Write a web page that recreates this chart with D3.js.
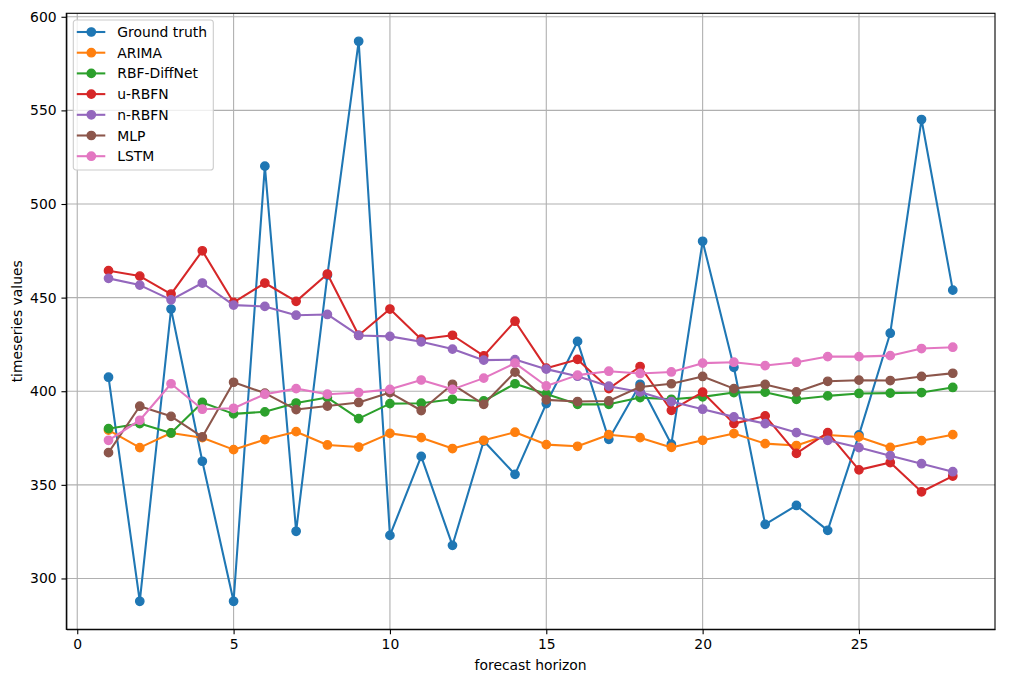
<!DOCTYPE html>
<html>
<head>
<meta charset="utf-8">
<script src="https://cdn.jsdelivr.net/npm/d3@7"></script>
<style>
    body { margin: 0; background: #fff; }
    #chart { width: 1009px; height: 682px; }
    text { font-family: "DejaVu Sans", sans-serif; fill: #000; }
    .grid line { stroke: #b0b0b0; stroke-width: 1.1px; }
    .axis path, .axis line { stroke: #000; stroke-width: 1.1px; }
    .axis text { font-size: 13.9px; }
    .axisLabel { font-size: 13.9px; }
    .legend text { font-size: 13.9px; }
</style>
</head>
<body>
<div id="chart"></div>
<script>

// forecast horizon (steps)
let horizon = d3.range(1, 29);

let seriesNames = ["Ground truth", "ARIMA", "RBF-DiffNet", "u-RBFN", "n-RBFN", "MLP", "LSTM"];

let groundTruth = [407.5, 287.8, 443.9, 362.6, 287.8, 520.2, 325.2, 462.0, 586.9, 323.0, 365.2, 317.7, 373.4, 355.6,
    393.4, 426.6, 374.3, 403.7, 371.7, 480.1, 412.8, 328.9, 339.0, 325.7, 376.7, 431.0, 545.1, 454.0];

let arima = [379.2, 369.9, 377.7, 375.2, 368.8, 374.2, 378.4, 371.3, 370.2, 377.5, 375.2, 369.4, 373.8, 378.1,
    371.5, 370.6, 376.8, 375.2, 370.0, 373.8, 377.4, 372.0, 371.0, 376.6, 375.6, 370.0, 373.6, 376.8];

let rbfDiffNet = [380.0, 382.7, 377.7, 394.0, 387.9, 389.0, 393.7, 396.6, 385.4, 393.4, 393.6, 395.7, 394.8, 404.0,
    398.5, 393.0, 393.0, 396.6, 395.7, 397.0, 399.3, 399.5, 395.7, 397.5, 398.8, 399.0, 399.3, 402.0];

let uRbfn = [464.4, 461.5, 451.9, 475.0, 447.4, 457.8, 448.0, 462.6, 429.9, 443.9, 427.8, 429.9, 418.9, 437.4,
    412.3, 417.0, 401.4, 413.2, 389.8, 399.5, 382.7, 386.8, 366.8, 377.9, 358.0, 361.9, 346.3, 354.7];

let nRbfn = [460.3, 456.7, 448.8, 457.8, 446.0, 445.3, 440.6, 441.0, 429.8, 429.3, 426.4, 422.5, 416.6, 416.9,
    411.8, 408.0, 402.7, 399.6, 394.5, 390.4, 386.3, 382.7, 377.9, 373.8, 369.9, 365.6, 361.3, 357.0];

let mlp = [367.2, 392.0, 386.6, 375.6, 404.8, 399.0, 390.2, 392.1, 394.0, 399.3, 389.7, 403.7, 393.0, 410.2,
    395.4, 394.5, 394.8, 402.3, 404.0, 407.9, 401.4, 403.6, 399.6, 405.3, 405.9, 405.7, 407.9, 409.6];

let lstm = [373.8, 384.5, 404.0, 390.4, 390.9, 398.4, 401.4, 398.4, 399.3, 401.0, 406.0, 401.0, 407.0, 415.0,
    402.8, 408.6, 410.7, 409.5, 410.3, 415.0, 415.5, 413.7, 415.5, 418.5, 418.5, 419.0, 422.8, 423.5];

let xTicks = [0, 5, 10, 15, 20, 25];
let yTicks = [300, 350, 400, 450, 500, 550, 600];

let colors = ["#1f77b4", "#ff7f0e", "#2ca02c", "#d62728", "#9467bd", "#8c564b", "#e377c2"];


class LineChart {

    constructor(parentElement, names, values) {
        this.parentElement = parentElement;
        this.data = names.map((name, i) => ({
            name: name,
            color: colors[i],
            points: values[i].map((v, j) => ({step: horizon[j], value: v}))
        }));

        this.initVis();
    }

    initVis() {
        let vis = this;

        vis.margin = {top: 13.3, right: 14, bottom: 52.7, left: 66.3};
        vis.width = 1009 - vis.margin.left - vis.margin.right;
        vis.height = 682 - vis.margin.top - vis.margin.bottom;

        // marker: 6pt size with 1pt edge
        vis.markerR = 4.17;
        vis.markerEdge = 1.39;

        vis.svg = d3.select("#" + vis.parentElement).append("svg")
            .attr("width", 1009)
            .attr("height", 682)
            .append("g")
            .attr("transform", "translate(" + vis.margin.left + "," + vis.margin.top + ")");

        // scales, padded 5% like matplotlib autoscale
        let xExt = d3.extent(horizon);
        let xPad = (xExt[1] - xExt[0]) * 0.05;
        vis.x = d3.scaleLinear()
            .domain([xExt[0] - xPad, xExt[1] + xPad])
            .range([0, vis.width]);

        let allValues = vis.data.flatMap(d => d.points.map(p => p.value));
        let yExt = d3.extent(allValues);
        let yPad = (yExt[1] - yExt[0]) * 0.05;
        vis.y = d3.scaleLinear()
            .domain([yExt[0] - yPad, yExt[1] + yPad])
            .range([vis.height, 0]);

        // grid
        let grid = vis.svg.append("g").attr("class", "grid");
        grid.selectAll(".gx").data(xTicks).enter().append("line")
            .attr("x1", d => vis.x(d)).attr("x2", d => vis.x(d))
            .attr("y1", 0).attr("y2", vis.height);
        grid.selectAll(".gy").data(yTicks).enter().append("line")
            .attr("x1", 0).attr("x2", vis.width)
            .attr("y1", d => vis.y(d)).attr("y2", d => vis.y(d));

        // lines + markers, series drawn in order
        vis.line = d3.line()
            .x(d => vis.x(d.step))
            .y(d => vis.y(d.value));

        let series = vis.svg.selectAll(".series")
            .data(vis.data)
            .enter().append("g")
            .attr("class", "series");

        series.append("path")
            .attr("d", d => vis.line(d.points))
            .attr("fill", "none")
            .attr("stroke", d => d.color)
            .attr("stroke-width", 2.08)
            .attr("stroke-linejoin", "round")
            .attr("stroke-linecap", "square");

        series.each(function(d) {
            d3.select(this).selectAll("circle")
                .data(d.points)
                .enter().append("circle")
                .attr("cx", p => vis.x(p.step))
                .attr("cy", p => vis.y(p.value))
                .attr("r", vis.markerR)
                .attr("fill", d.color)
                .attr("stroke", d.color)
                .attr("stroke-width", vis.markerEdge);
        });

        // axes
        vis.svg.append("g")
            .attr("class", "axis axis--x")
            .attr("transform", "translate(0," + vis.height + ")")
            .call(d3.axisBottom(vis.x).tickValues(xTicks).tickSizeInner(4.86).tickSizeOuter(0).tickPadding(4.86));

        vis.svg.append("g")
            .attr("class", "axis axis--y")
            .call(d3.axisLeft(vis.y).tickValues(yTicks).tickSizeInner(4.86).tickSizeOuter(0).tickPadding(4.86));

        // spines
        vis.svg.append("rect")
            .attr("width", vis.width)
            .attr("height", vis.height)
            .attr("fill", "none")
            .attr("stroke", "#000")
            .attr("stroke-width", 1.1);

        // labels
        vis.svg.append("text")
            .attr("class", "axisLabel")
            .attr("x", vis.width / 2)
            .attr("y", vis.height + 40.5)
            .style("text-anchor", "middle")
            .text("forecast horizon");

        vis.svg.append("text")
            .attr("class", "axisLabel")
            .attr("transform", "rotate(-90)")
            .attr("x", -vis.height / 2)
            .attr("y", 21.5 - vis.margin.left)
            .style("text-anchor", "middle")
            .text("timeseries values");

        vis.drawLegend();
    }

    drawLegend() {
        let vis = this;

        let legend = vis.svg.append("g")
            .attr("class", "legend")
            .attr("transform", "translate(7, 6.7)");

        legend.append("rect")
            .attr("width", 140)
            .attr("height", 150)
            .attr("rx", 2.8)
            .attr("fill", "#fff")
            .attr("fill-opacity", 0.8)
            .attr("stroke", "#cccccc")
            .attr("stroke-width", 1.1);

        let rows = legend.selectAll(".row")
            .data(vis.data)
            .enter().append("g")
            .attr("class", "row")
            .attr("transform", (d, i) => "translate(0," + (12 + i * 20.7) + ")");

        rows.append("line")
            .attr("x1", 3.5).attr("x2", 32)
            .attr("stroke", d => d.color)
            .attr("stroke-width", 2.08);

        rows.append("circle")
            .attr("cx", 18)
            .attr("r", vis.markerR)
            .attr("fill", d => d.color)
            .attr("stroke", d => d.color)
            .attr("stroke-width", vis.markerEdge);

        rows.append("text")
            .attr("x", 44)
            .attr("dy", "0.36em")
            .text(d => d.name);
    }
}

let myChart = new LineChart("chart", seriesNames,
    [groundTruth, arima, rbfDiffNet, uRbfn, nRbfn, mlp, lstm]);

</script>
</body>
</html>
